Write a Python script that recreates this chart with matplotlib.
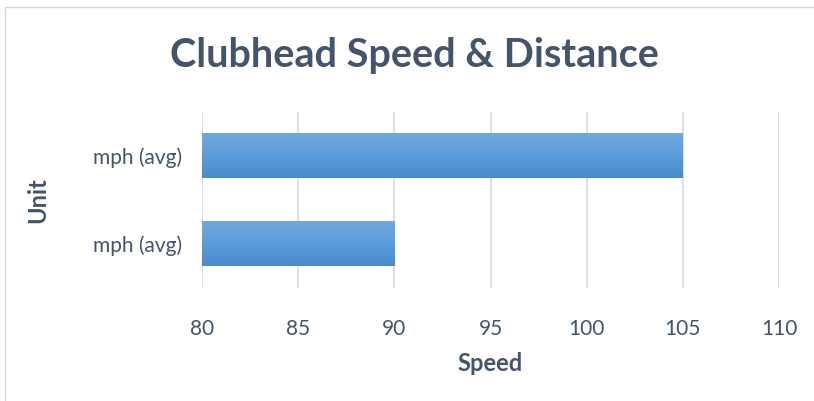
import numpy as np
import matplotlib
matplotlib.use("Agg")
import matplotlib.pyplot as plt
from matplotlib.patches import Rectangle
from matplotlib.colors import LinearSegmentedColormap

# ---- data ----
categories = ["mph (avg)", "mph (avg)"]
speeds = [90, 105]
x_ticks = [80, 85, 90, 95, 100, 105, 110]
title = "Clubhead Speed & Distance"
x_label = "Speed"
y_label = "Unit"

text_color = "#44546A"
grid_color = "#DCE1E8"
FONT = ["Lato", "DejaVu Sans"]

fig = plt.figure(figsize=(8.14, 4.01), dpi=100)
fig.patch.set_facecolor("white")

# outer chart border
fig.patches.append(Rectangle((5/814, -0.01), 1.0, 1 - 7/401 + 0.01, transform=fig.transFigure,
                             fill=False, edgecolor="#D9D9D9", linewidth=1.0))

ax = fig.add_axes([202/814, 1 - 288/401, 577/814, 176/401])
y = np.arange(len(categories))
bars = ax.barh(y, speeds, height=0.51, color="#5B9BD5", zorder=2)

ax.set_xlim(x_ticks[0], x_ticks[-1])
ax.set_ylim(-0.5, len(categories) - 0.5)
ax.set_xticks(x_ticks)
ax.set_yticks(y)
ax.set_yticklabels(categories)

# gradient fill for bars (clipped to the visible part of each bar)
cmap = LinearSegmentedColormap.from_list("g", ["#4A8ACB", "#5B9DDB", "#72A8DD"])
grad = np.linspace(0, 1, 256).reshape(-1, 1)
xmin = ax.get_xlim()[0]
for b in bars:
    x0, y0 = b.get_x(), b.get_y()
    w, h = b.get_width(), b.get_height()
    left = max(x0, xmin)
    im = ax.imshow(grad, extent=(left, x0 + w, y0, y0 + h), origin="lower",
                   cmap=cmap, aspect="auto", zorder=3)
    im.set_clip_path(b)
    im.set_clip_box(ax.bbox)
ax.set_xlim(x_ticks[0], x_ticks[-1])
ax.set_ylim(-0.5, len(categories) - 0.5)

ax.grid(axis="x", color=grid_color, linewidth=1.6, zorder=0)
ax.set_axisbelow(True)
for s in ax.spines.values():
    s.set_visible(False)
ax.tick_params(length=0, colors=text_color, labelsize=15)
ax.tick_params(axis="x", pad=22)
ax.tick_params(axis="y", pad=14)
for lab in ax.get_xticklabels() + ax.get_yticklabels():
    lab.set_family(FONT)

ax.set_xlabel(x_label, fontsize=17, fontweight="bold", color=text_color, family=FONT, labelpad=10)
ax.set_ylabel(y_label, fontsize=17, fontweight="bold", color=text_color, family=FONT, labelpad=32)

fig.text(414/814, 1 - 55/401, title, ha="center", va="center", fontsize=28.5,
         fontweight="bold", color=text_color, family=FONT)

fig.savefig("out.png", dpi=100)
